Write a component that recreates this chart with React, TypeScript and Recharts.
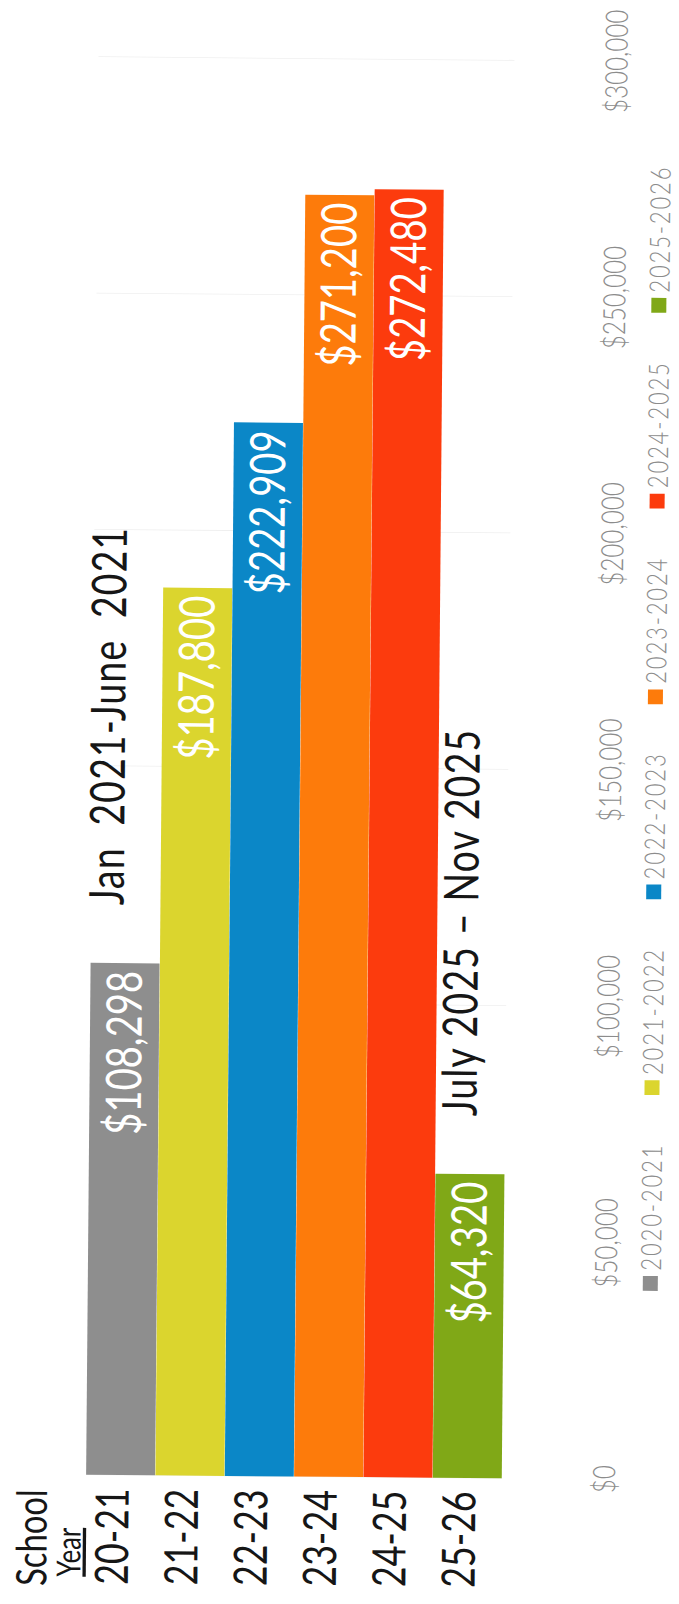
import React from 'react';
import { BarChart, Bar, XAxis, YAxis, CartesianGrid, Legend, LabelList, Cell } from 'recharts';

const categories = ['20-21', '21-22', '22-23', '23-24', '24-25', '25-26'];
const seriesNames = ['2020-2021', '2021-2022', '2022-2023', '2023-2024', '2024-2025', '2025-2026'];
const amounts = [108298, 187800, 222909, 271200, 272480, 64320];
const barColors = ['#8e8e8e', '#dbd52e', '#0b87c7', '#fd7b0b', '#fc3b0d', '#80a817'];
const valueTicks = [0, 50000, 100000, 150000, 200000, 250000, 300000];
const notes = ['Jan  2021-June  2021', '', '', '', '', 'July 2025 – Nov 2025'];

const data = categories.map((year, i) => ({ year, amount: amounts[i], note: notes[i] }));

// chart is drawn sideways then turned, squeezed along the value axis like the scan
const SQUEEZE = 0.78;
const W = 2056;
const H = 679;
const FONT = 'Lato, "Open Sans", sans-serif';

const money = (v: number) => '$' + v.toLocaleString('en-US');

const box = (p: any) => {
  const vb = p.viewBox || {};
  return {
    x: p.x ?? vb.x,
    y: p.y ?? vb.y,
    width: p.width ?? vb.width,
    height: p.height ?? vb.height,
  };
};

const ValueLabel = (props: any) => {
  const { x, y, width, height } = box(props);
  return (
    <text x={x + width - 10} y={y + height / 2 + 17} textAnchor="end" fill="#fff" fontFamily={FONT} fontSize={49}>
      {money(props.value)}
    </text>
  );
};

const NoteLabel = (props: any) => {
  if (!props.value) return null;
  const { x, y, width, height } = box(props);
  const dy = props.index === 0 ? -2 : 6;
  return (
    <text
      x={x + width + 74}
      y={y + height / 2 + dy}
      fill="#161616"
      fontFamily={FONT}
      fontSize={48}
      letterSpacing={1.5}
      style={{ whiteSpace: 'pre' }}
    >
      {props.value}
    </text>
  );
};

const MoneyTick = (props: any) => (
  <text x={props.x} y={621} textAnchor="middle" fontFamily={FONT} fontWeight={300} fontSize={31} fill="#8c8c8c">
    {money(props.payload.value)}
  </text>
);

const YearTick = (props: any) => (
  <text x={84} y={props.y + 8} textAnchor="middle" fontFamily={FONT} fontSize={46} fill="#161616">
    {props.payload.value}
  </text>
);

const LegendRow = () => (
  <div style={{ display: 'flex', gap: 62, whiteSpace: 'nowrap' }}>
    {seriesNames.map((name, i) => (
      <div key={name} style={{ display: 'flex', alignItems: 'center', gap: 7 }}>
        <span style={{ display: 'inline-block', width: 19, height: 15, background: barColors[i] }} />
        <span
          style={{
            fontFamily: FONT,
            fontWeight: 300,
            fontSize: 28,
            letterSpacing: 2.5,
            lineHeight: '28px',
            color: '#8c8c8c',
          }}
        >
          {name}
        </span>
      </div>
    ))}
  </div>
);

export default function App() {
  return (
    <div style={{ position: 'absolute', left: 0, top: 0, width: 679, height: 1604, overflow: 'hidden', background: '#fff' }}>
      <div style={{ position: 'absolute', left: 0, top: 0, width: 679, height: 1604, transform: 'rotate(0.5deg)', transformOrigin: '50% 50%' }}>
        <div
          style={{
            position: 'absolute',
            left: 0,
            top: 0,
            width: W,
            height: H,
            transformOrigin: '0 0',
            transform: `translateY(1604px) rotate(-90deg) scaleX(${SQUEEZE})`,
          }}
        >
          <BarChart
            width={W}
            height={H}
            data={data}
            layout="vertical"
            barCategoryGap={0}
            margin={{ top: 92, right: 75, bottom: 111, left: 0 }}
          >
            <CartesianGrid horizontal={false} stroke="#efefef" />
            <XAxis
              type="number"
              domain={[0, 300000]}
              ticks={valueTicks}
              height={60}
              axisLine={false}
              tickLine={false}
              tick={<MoneyTick />}
            />
            <YAxis
              type="category"
              dataKey="year"
              width={163}
              axisLine={false}
              tickLine={false}
              tick={<YearTick />}
            />
            <Legend
              layout="horizontal"
              verticalAlign="middle"
              align="center"
              content={<LegendRow />}
              wrapperStyle={{ left: 405, top: 640, width: 'auto' }}
            />
            <Bar dataKey="amount" isAnimationActive={false}>
              {data.map((d, i) => (
                <Cell key={d.year} fill={barColors[i]} />
              ))}
              <LabelList dataKey="amount" content={<ValueLabel />} />
              <LabelList dataKey="note" content={<NoteLabel />} />
            </Bar>
          </BarChart>
          <svg width={W} height={H} style={{ position: 'absolute', left: 0, top: 0, pointerEvents: 'none' }}>
            <text x={20} y={53} fontFamily={FONT} fontSize={42} fill="#161616">School</text>
            <text x={32} y={87} fontFamily={FONT} fontSize={33} fill="#161616" textDecoration="underline">Year</text>
          </svg>
        </div>
      </div>
    </div>
  );
}
